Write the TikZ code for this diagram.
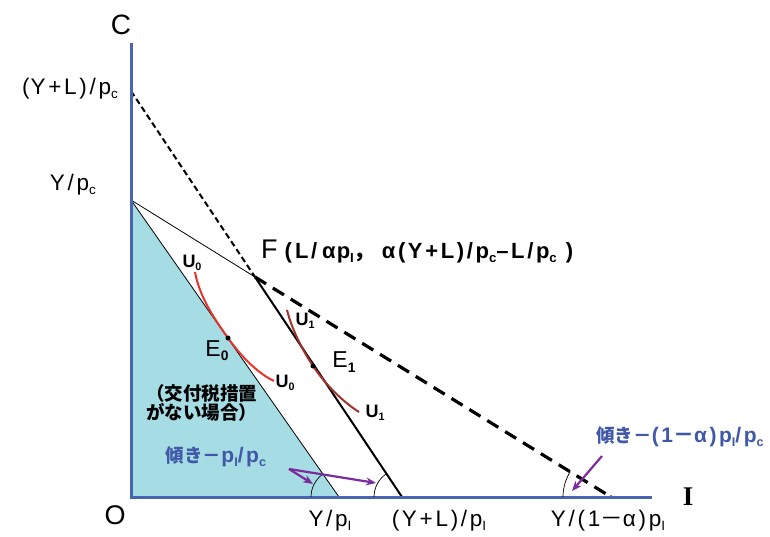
\documentclass[tikz,border=0pt]{standalone}
\usepackage{fontspec}
\setmainfont{Liberation Sans}[LetterSpace=12]
\newfontfamily\jp{Noto Sans CJK JP}
\newfontfamily\serifI{Liberation Serif}
\usetikzlibrary{arrows.meta}
\definecolor{axisblue}{HTML}{4A64B4}
\definecolor{fillcyan}{HTML}{A6DCE4}
\definecolor{arrowpurple}{HTML}{7B2C9A}
\definecolor{textblue}{HTML}{4058A8}
\definecolor{ucurvea}{HTML}{E8322A}
\definecolor{ucurveb}{HTML}{A0342C}
\newcommand\sbs[1]{\raisebox{-0.35ex}{\scalebox{0.6}{#1}}}
\newcommand\fs[1]{\fontsize{#1}{#1}\selectfont}
\tikzset{
  lbl/.style={inner sep=0pt, font=\fs{22.5}},
  ulbl/.style={inner sep=0pt, font=\fs{18}\bfseries},
  elbl/.style={inner sep=0pt, font=\fs{23}},
  bluelbl/.style={inner sep=0pt, font=\fs{21}\bfseries, text=textblue},
  purplearrow/.style={draw=arrowpurple, line width=2.2pt, -{Stealth[length=10pt,width=8pt]}},
  anglearc/.style={draw=black, line width=0.7pt},
  dot/.style={circle, fill=black, inner sep=0pt, minimum size=5pt},
}
\begin{document}
\begin{tikzpicture}[x=1pt,y=-1pt]
\useasboundingbox (0,0) rectangle (770,537);
% key points
\coordinate (O) at (131,497);
\coordinate (Ctop) at (131,43);
\coordinate (Iend) at (652,497);
\coordinate (A) at (131,91);
\coordinate (B) at (131,200);
\coordinate (F) at (255,277);
\coordinate (X1) at (339,497);
\coordinate (X2) at (402,497);
\coordinate (X3) at (611,497);
% shaded budget set
\fill[fillcyan] (B) -- (O) -- (X1) -- cycle;
\draw[line width=0.8pt] (B) -- (X1);
% budget lines
\draw[line width=0.8pt] (B) -- (F);
\draw[line width=2pt, dash pattern=on 6pt off 3.5pt] (A) -- (F);
\draw[line width=2pt] (F) -- (X2);
\draw[line width=3.2pt, dash pattern=on 13pt off 8pt] (F) -- (X3);
\fill (X3) circle (1.8pt);
% axes
\draw[axisblue, line width=3pt] (Ctop) -- (O) -- (Iend);
% indifference curves
\coordinate (E0c) at (228,338);
\coordinate (E1c) at (313,366);
\draw[ucurvea, line width=2pt] (195,272) .. controls (200,300) and (219,325) .. (E0c)
  .. controls (238,352) and (255,372) .. (274,381);
\draw[ucurveb, line width=2pt] (287,310) .. controls (292,330) and (303,351) .. (E1c)
  .. controls (323,381) and (340,400) .. (359,412);
\node[dot] (E0) at (E0c) {};
\node[dot] (E1) at (E1c) {};
% angle arcs
\draw[anglearc] (X1) ++(-28,0) arc[start angle=180, end angle=235, radius=28];
\draw[anglearc] (X2) ++(-28,0) arc[start angle=180, end angle=236, radius=28];
\draw[anglearc] (X3) ++(-48,0) arc[start angle=180, end angle=212, radius=48];
% arrows
\coordinate (P1) at (289,469);
\coordinate (P1a) at (313,484);
\coordinate (P1b) at (376,483);
\coordinate (P2) at (602,456);
\coordinate (P2a) at (572,491);
\draw[purplearrow] (P1) -- (P1a);
\draw[purplearrow] (P1) -- (P1b);
\draw[purplearrow] (P2) -- (P2a);
% axis labels
\node[inner sep=0pt, font=\fs{28}] (lC) at (121,25) {C};
\node[inner sep=0pt, font=\fs{27}] (lO) at (115,515) {O};
\node[inner sep=0pt, font=\fs{27}\serifI\bfseries] (lI) at (688,497) {I};
\node[lbl, anchor=east] (lYLc) at (118,89) {(\hspace{1pt}Y+L)/p\sbs{c}};
\node[lbl, anchor=east] (lYc) at (96,185) {Y/p\sbs{c}};
\node[lbl] (lYI) at (330,521) {Y/p\sbs{I}};
\node[lbl] (lYLI) at (439,521) {(Y+L)/p\sbs{I}};
\node[lbl] (lY1a) at (608,521) {Y/(1{\jp －}α)p\sbs{I}};
% F label
\node[inner sep=0pt, anchor=west] (lF) at (261,251) {{\fs{27}F}\hspace{7pt}{\fs{22}\bfseries (\hspace{3pt}L/\hspace{5pt}α\hspace{1pt}p\sbs{I}{\jp ，}\hspace{6pt}α(Y+L)/p\sbs{c}–L/p\sbs{c}\hspace{9pt})}};
% curve labels
\node[ulbl] (lU0a) at (192,263) {U\sbs{0}};
\node[ulbl] (lU0b) at (285,383) {U\sbs{0}};
\node[ulbl] (lU1a) at (305,321) {U\sbs{1}};
\node[ulbl] (lU1b) at (375,413) {U\sbs{1}};
\node[elbl] (lE0) at (217,351) {E\sbs{\bfseries 0}};
\node[elbl] (lE1) at (344,362) {E\sbs{\bfseries 1}};
% text
\node[inner sep=0pt, font=\fs{18.5}\jp\bfseries, align=left, anchor=west] (lnote) at (146,403) {（交付税措置\\がない場合）};
\node[bluelbl] (ls1) at (216,457) {{\fs{18.5}\jp 傾き－}p\sbs{I}/p\sbs{c}};
\node[bluelbl] (ls2) at (680,437) {{\fs{18.5}\jp 傾き－}(1{\jp －}α)p\sbs{I}/p\sbs{c}};
\end{tikzpicture}
\end{document}
